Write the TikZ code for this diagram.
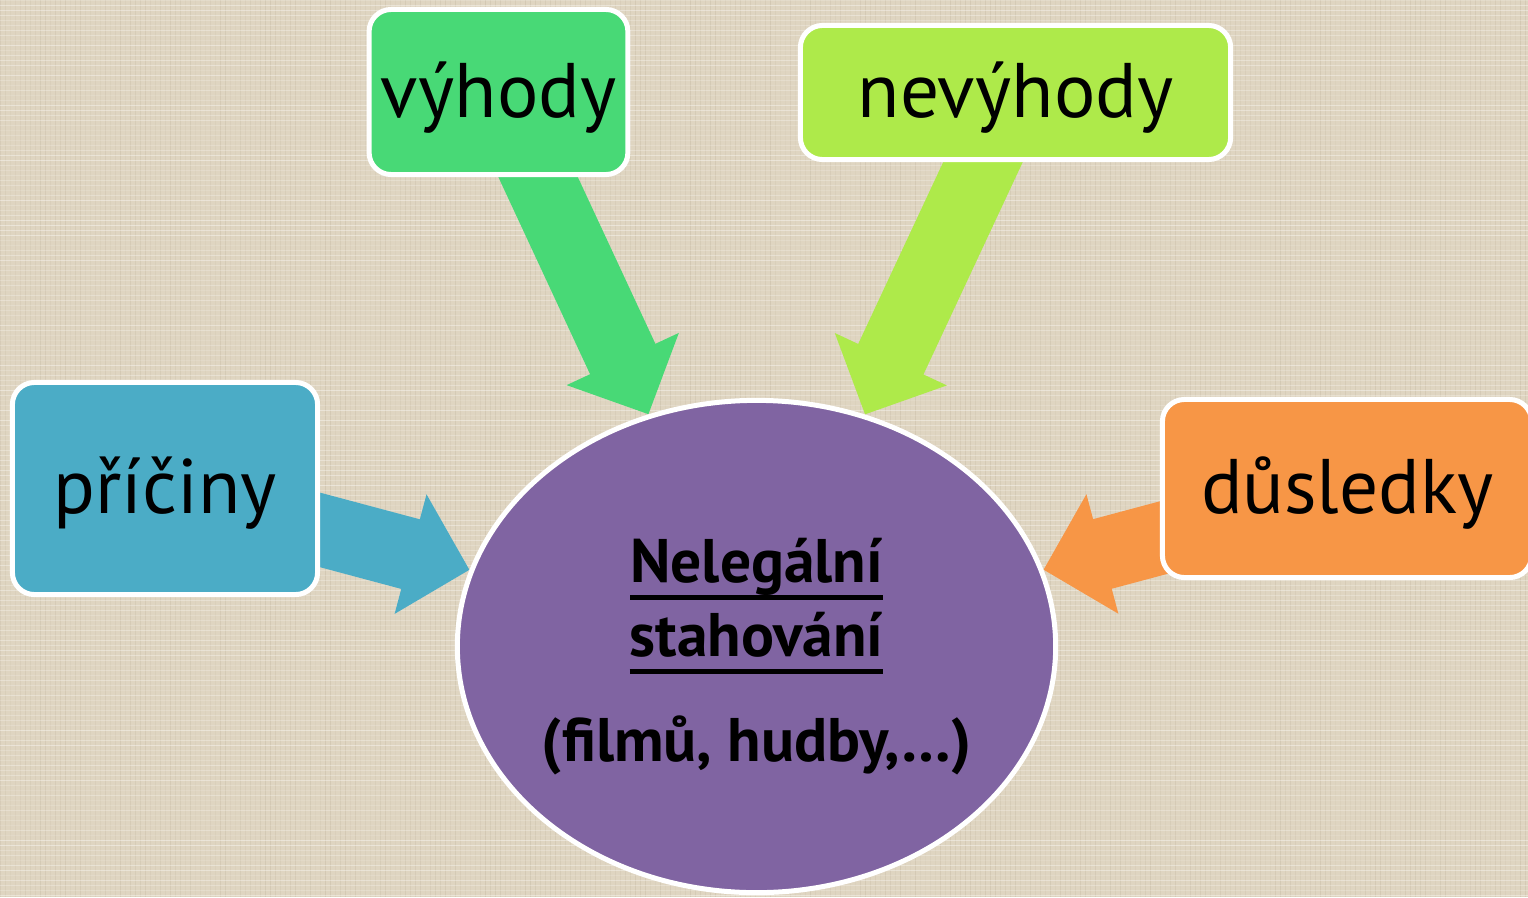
\documentclass[tikz,border=0pt]{standalone}
\usepackage{fontspec}
\setmainfont{PT Sans}
\usetikzlibrary{arrows.meta,shapes.geometric,backgrounds}

\definecolor{pozadi}{RGB}{223,213,193}
\definecolor{vlakno}{RGB}{190,178,155}
\definecolor{modra}{RGB}{75,172,198}
\definecolor{zelena}{RGB}{72,217,118}
\definecolor{limetka}{RGB}{174,234,74}
\definecolor{oranzova}{RGB}{247,150,70}
\definecolor{fialova}{RGB}{128,100,162}

\newcommand\podtrh[1]{\setbox0\hbox{#1}\rlap{\rule[-5pt]{\wd0}{1.4pt}}\box0}

\pgfdeclarelayer{platno}
\pgfsetlayers{platno,background,main}

\tikzset{
  krabice/.style={draw=white, line width=0.05cm, rounded corners=0.22cm,
    text=black, text height=0.6cm, text depth=0.1cm,
    font=\fontsize{22}{26}\selectfont},
  kruh/.style={ellipse, draw=white, line width=0.05cm, fill=fialova,
    minimum width=5.98cm, minimum height=4.92cm, inner sep=0pt},
  nazev/.style={align=center, inner sep=0pt,
    font=\bfseries\fontsize{17.5}{21}\selectfont},
  sipka/.style={line width=0.72cm, -{Triangle[length=0.61cm, width=1.2cm]}},
}

\begin{document}
\begin{tikzpicture} [x=0.01cm, y=-0.01cm]
      \useasboundingbox (0,0) rectangle (1528,897);

      % pozadi
      \begin{pgfonlayer}{platno}
        \fill [pozadi] (0,0) rectangle (1528,897);
        \pgfmathsetseed{11}
        \foreach \i in {0,5,...,1528}
          \draw [vlakno, line width=0.01cm, opacity={0.1+0.25*rnd}] (\i,0) -- (\i,897);
        \foreach \j in {0,5,...,897}
          \draw [white, line width=0.01cm, opacity={0.1+0.3*rnd}] (0,\j) -- (1528,\j);
      \end{pgfonlayer}

      % stred
      \node [kruh] (stred) at (756.5,646.5) {};
      \node [nazev] (nazev) at ([yshift=-0.1cm]stred) {\podtrh{Nelegální}\\ \podtrh{stahování}\\[9pt] (filmů, hudby,…)};

      % okolni krabice
      \node [krabice, fill=modra, minimum width=3.05cm, minimum height=2.12cm] (priciny) at (165,488.5) {příčiny};
      \node [krabice, fill=zelena, minimum width=2.58cm, minimum height=1.65cm] (vyhody) at (498.5,92) {výhody};
      \node [krabice, fill=limetka, minimum width=4.30cm, minimum height=1.34cm] (nevyhody) at (1015.5,92.5) {nevýhody};
      \node [krabice, fill=oranzova, minimum width=3.69cm, minimum height=1.78cm] (dusledky) at (1347,488.5) {důsledky};

      % sipky
      \begin{scope}[on background layer]
        \draw [sipka, modra] (priciny.center) -- (stred);
        \draw [sipka, zelena] (vyhody.center) -- (stred);
        \draw [sipka, limetka] (nevyhody.center) -- (stred);
        \draw [sipka, oranzova] (dusledky.center) -- (stred);
      \end{scope}
    \end{tikzpicture}
\end{document}
